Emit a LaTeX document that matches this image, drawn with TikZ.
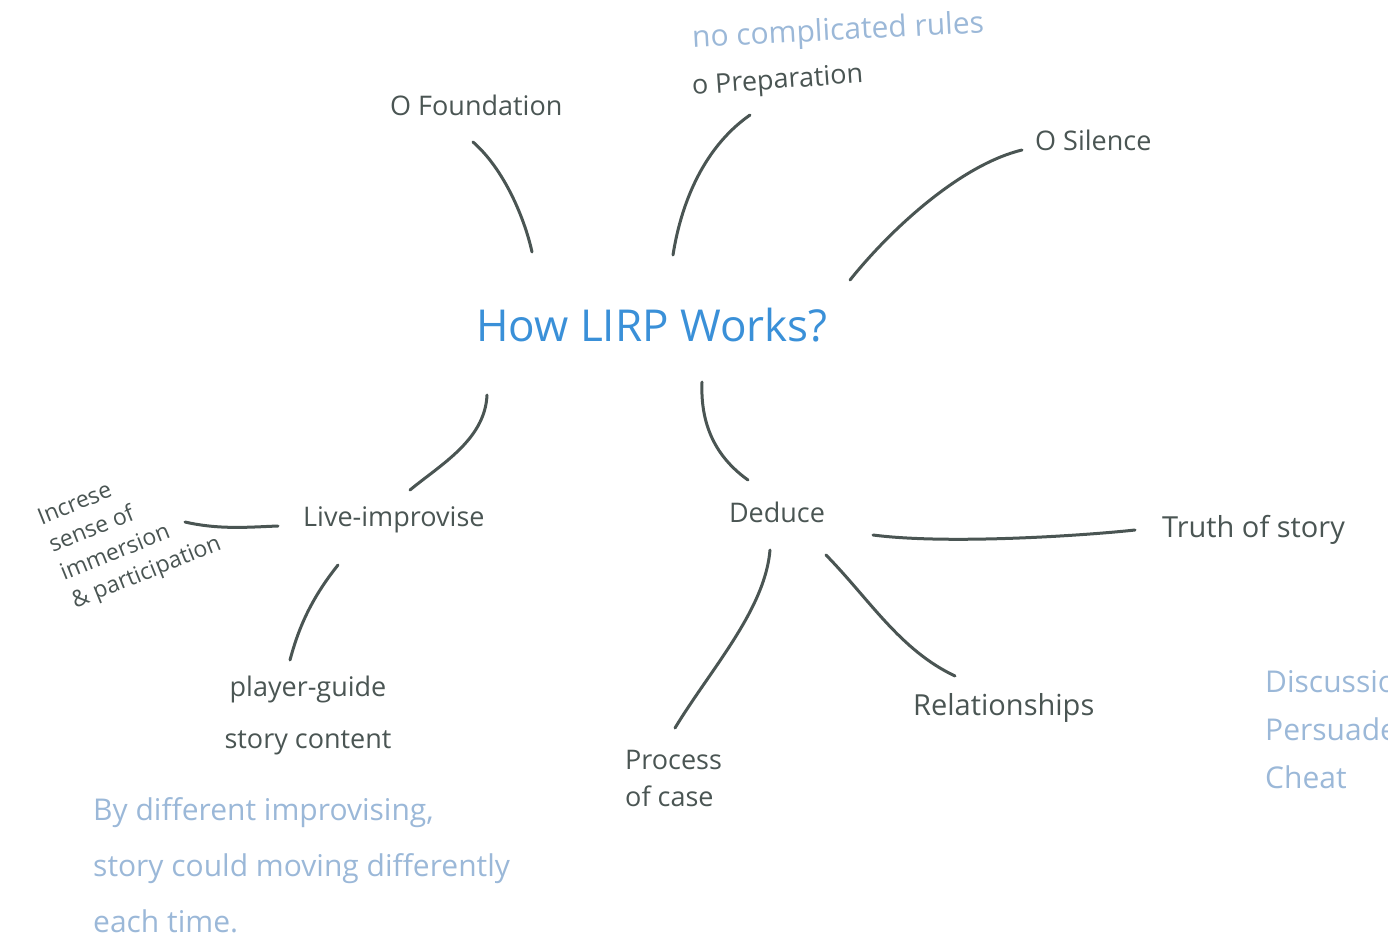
\documentclass[tikz,border=0pt]{standalone}
\usepackage{fontspec}
\setmainfont{Open Sans}
\usetikzlibrary{positioning}

\definecolor{inkgray}{HTML}{4A5553}
\definecolor{titleblue}{HTML}{3A90D8}
\definecolor{noteblue}{HTML}{9BB8D8}

\tikzset{
	ink/.style={draw=inkgray, line width=3pt, line cap=round},
	branch/.style={text=inkgray, inner sep=0pt, font=\fontsize{27}{37}\selectfont},
	note/.style={text=noteblue, inner sep=0pt, align=left, font=\fontsize{30}{56}\selectfont},
	hub/.style={text=titleblue, inner sep=0pt, font=\fontsize{44}{50}\selectfont}
}

\begin{document}
\begin{tikzpicture}[x=1pt, y=-1pt]
	\useasboundingbox (0,0) rectangle (1388,945);
	\clip (0,0) rectangle (1388,945);

	\node [hub] (lirp) at (652,325) {How LIRP Works?};

	% top branches
	\node [branch, anchor=west] (found) at (390,105) {O Foundation};
	\node [note, anchor=west, rotate=3] (rules) at (692,40) {no complicated rules};
	\node [branch, anchor=west, rotate=4] (prep) at (692,88) {o Preparation};
	\node [branch, anchor=west] (silence) at (1035,140) {O Silence};

	% live-improvise side
	\node [branch, anchor=west] (live) at (303,520) {Live-improvise};
	\node [branch, align=left, rotate=22, font=\fontsize{23}{30}\selectfont]
		(immerse) at (130,532) {Increse\\sense of\\immersion\\\& participation};
	\node [branch, align=center, font=\fontsize{27}{52}\selectfont]
		(guide) at (308,715) {player-guide\\story content};
	\node [note, anchor=west] (byimpro) at (93,865)
		{By different improvising,\\story could moving differently\\each time.};

	% deduce side
	\node [branch] (deduce) at (777,512) {Deduce};
	\node [branch, anchor=west, font=\fontsize{29}{37}\selectfont]
		(truth) at (1162,530) {Truth of story};
	\node [branch, align=left, anchor=west] (process) at (625,778) {Process\\of case};
	\node [branch, anchor=west, font=\fontsize{29}{37}\selectfont]
		(relation) at (913,708) {Relationships};
	\node [note, anchor=west, font=\fontsize{30}{48}\selectfont]
		(discuss) at (1265,730) {Discussion\\Persuade\\Cheat};

	% connector ends
	\coordinate (found-a) at (473,142);
	\coordinate (found-b) at (532,252);
	\coordinate (prep-a) at (750,115);
	\coordinate (prep-b) at (673,255);
	\coordinate (silence-a) at (1022,150);
	\coordinate (silence-b) at (850,280);
	\coordinate (live-a) at (487,395);
	\coordinate (live-b) at (410,490);
	\coordinate (deduce-a) at (702,382);
	\coordinate (deduce-b) at (748,480);
	\coordinate (immerse-a) at (185,522);
	\coordinate (immerse-b) at (278,526);
	\coordinate (guide-a) at (338,565);
	\coordinate (guide-b) at (290,660);
	\coordinate (truth-a) at (873,535);
	\coordinate (truth-b) at (1135,530);
	\coordinate (process-a) at (770,550);
	\coordinate (process-b) at (675,728);
	\coordinate (relation-a) at (826,555);
	\coordinate (relation-b) at (955,676);

	\draw[ink] (found-a) .. controls (505,170) and (525,220) .. (found-b);
	\draw[ink] (prep-a) .. controls (700,150) and (680,210) .. (prep-b);
	\draw[ink] (silence-a) .. controls (960,165) and (890,230) .. (silence-b);
	\draw[ink] (live-a) .. controls (485,440) and (440,465) .. (live-b);
	\draw[ink] (deduce-a) .. controls (700,430) and (720,460) .. (deduce-b);
	\draw[ink] (immerse-a) .. controls (220,530) and (250,527) .. (immerse-b);
	\draw[ink] (guide-a) .. controls (310,600) and (298,630) .. (guide-b);
	\draw[ink] (truth-a) .. controls (950,545) and (1090,535) .. (truth-b);
	\draw[ink] (process-a) .. controls (765,610) and (710,670) .. (process-b);
	\draw[ink] (relation-a) .. controls (870,600) and (900,650) .. (relation-b);
\end{tikzpicture}
\end{document}
